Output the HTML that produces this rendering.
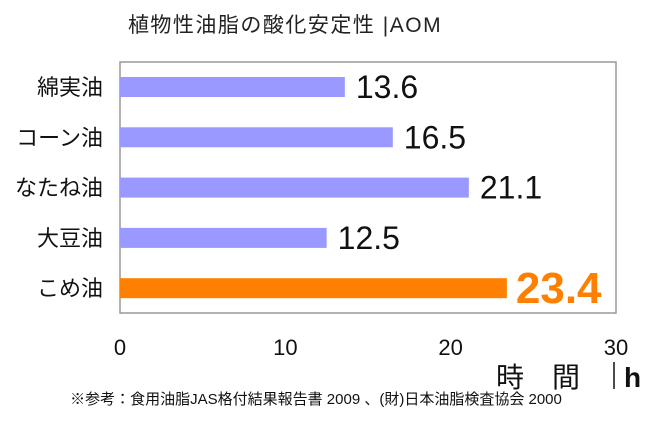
<!DOCTYPE html>
<html><head><meta charset="utf-8"><style>
body{margin:0;background:#fff;width:650px;height:419px;overflow:hidden}
svg{font-family:"Liberation Sans","Noto Sans CJK JP",sans-serif}
</style></head><body>
<svg id="c" width="650" height="419">
<text x="285" y="32" font-size="21" letter-spacing="1.5" text-anchor="middle" fill="#222">植物性油脂の酸化安定性 |AOM</text>
<rect x="120" y="62" width="496" height="251" fill="none" stroke="#999" stroke-width="1.5"/>
<g id="bars"></g>
<text x="538" y="387" font-size="28" text-anchor="middle" fill="#111">時　間</text>
<line x1="614" y1="362" x2="614" y2="389" stroke="#111" stroke-width="1.5"/>
<text x="624" y="387" font-size="28" font-weight="bold" fill="#111">h</text>
<text x="316" y="404" font-size="15" text-anchor="middle" fill="#111">※参考：食用油脂JAS格付結果報告書 2009 、(財)日本油脂検査協会 2000</text>
</svg>
<script>
const categories=["綿実油","コーン油","なたね油","大豆油","こめ油"];
const values=[13.6,16.5,21.1,12.5,23.4];
const valueLabels=["13.6","16.5","21.1","12.5","23.4"];
const xTicks=[0,10,20,30];
const NS="http://www.w3.org/2000/svg";
const g=document.getElementById("bars");
const x=v=>120+v*(496/30);
const y=i=>87+i*50.3;
function mk(t,a){const e=document.createElementNS(NS,t);for(const k in a)e.setAttribute(k,a[k]);g.appendChild(e);return e;}
xTicks.forEach(t=>{const e=mk("text",{x:x(t),y:355,"font-size":22,"text-anchor":"middle",fill:"#111"});e.textContent=t;

});
categories.forEach((c,i)=>{
const hi=i===4;
const r=mk("rect",{x:120,y:y(i)-10,width:x(values[i])-120,height:20,fill:hi?"#ff8000":"#9999ff"});


const l=mk("text",{x:103,y:y(i)+8,"font-size":22,"text-anchor":"end",fill:"#111"});l.textContent=c;


const v=mk("text",{x:x(values[i])+(hi?9:11),y:y(i)+(hi?15:11),"font-size":hi?44:32,"font-weight":hi?"bold":"normal",fill:hi?"#ff8000":"#111"});v.textContent=valueLabels[i];


});
</script>
</body></html>
